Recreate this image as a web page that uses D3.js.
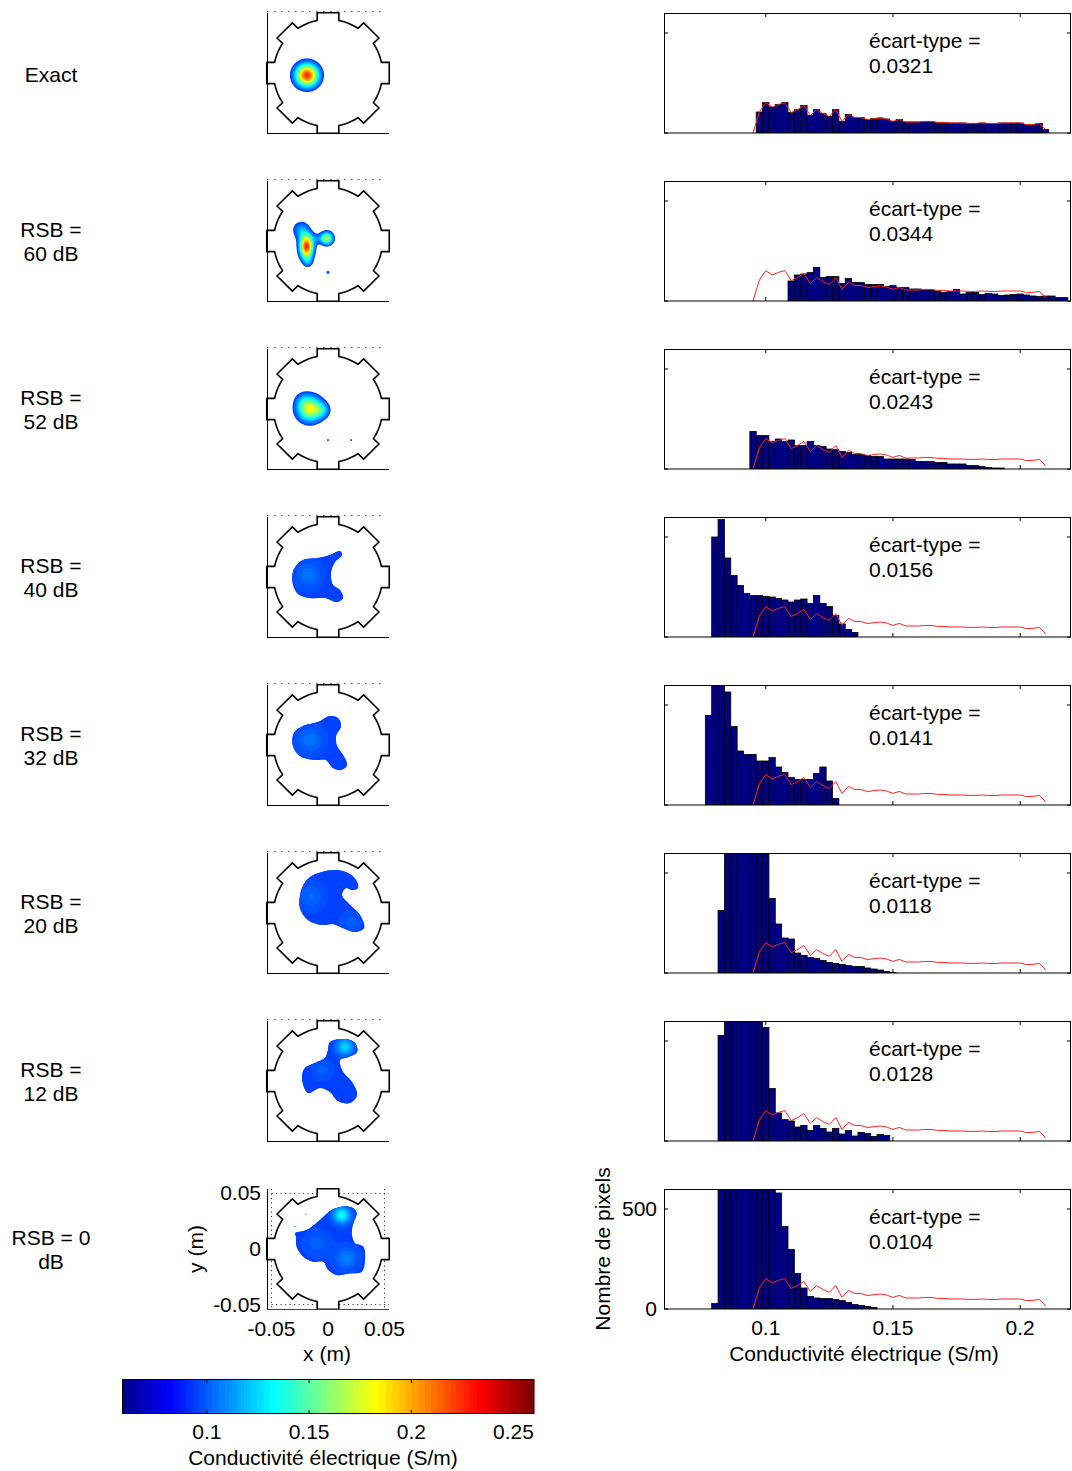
<!DOCTYPE html>
<html>
<head>
<meta charset="utf-8">
<script src="https://cdn.jsdelivr.net/npm/d3@7"></script>
<style>
  body { margin: 0; background: #fff; }
  text { font-family: "Liberation Sans", Arial, sans-serif; fill: #000; }
</style>
</head>
<body>
<svg id="fig" width="1072" height="1471"></svg>
<script>
// ---------- data ----------
const rowLabels = [["Exact"], ["RSB =", "60 dB"], ["RSB =", "52 dB"], ["RSB =", "40 dB"],
                   ["RSB =", "32 dB"], ["RSB =", "20 dB"], ["RSB =", "12 dB"], ["RSB = 0", "dB"]];
const stdDevs = ["0.0321", "0.0344", "0.0243", "0.0156", "0.0141", "0.0118", "0.0128", "0.0104"];

// histogram bins: centre of bin k is binOrigin + k*binWidth
const binWidth = 0.0025;
const binOrigin = 0.0975;
const exactCounts = [105, 152, 130, 143, 152, 102, 117, 138, 88, 117, 97, 83, 117, 58, 93, 78, 77, 67, 72, 75,
                     70, 58, 68, 55, 55, 55, 58, 58, 53, 53, 50, 50, 50, 48, 48, 50, 48, 47, 50, 50,
                     50, 50, 42, 43, 48, 17];
const exactStart = 0;
const counts60 = [100, 130, 135, 142, 168, 117, 122, 122, 88, 113, 93, 92, 83, 83, 83, 72, 77, 67, 67, 60,
                  60, 55, 55, 50, 43, 47, 58, 35, 42, 43, 33, 38, 35, 27, 30, 33, 35, 30, 25, 22,
                  25, 25, 17, 17];
const start60 = 5;
const counts52 = [188, 167, 167, 138, 150, 138, 145, 117, 117, 138, 117, 112, 100, 97, 88, 83, 72, 72, 67, 63,
                  62, 50, 50, 50, 50, 48, 38, 38, 38, 33, 33, 25, 25, 25, 17, 17, 12, 8, 5, 5];
const start52 = -1;
const counts40 = [500, 587, 395, 308, 258, 217, 207, 207, 203, 200, 192, 185, 175, 185, 190, 168, 207, 168,
                  153, 107, 65, 37, 23];
const start40 = -7;
const counts32 = [448, 700, 690, 565, 392, 270, 253, 253, 220, 220, 237, 190, 162, 137, 128, 128, 128, 158,
                  190, 120, 32];
const start32 = -8;
const counts20 = [312, 900, 1200, 1300, 1250, 1100, 950, 750, 373, 245, 175, 170, 100, 88, 77, 72, 63, 53,
                  48, 43, 37, 33, 32, 25, 20, 15, 8, 3];
const start20 = -6;
const counts12 = [528, 950, 1250, 1300, 1150, 950, 800, 567, 262, 140, 107, 100, 70, 78, 53, 77, 63, 45,
                  63, 35, 52, 25, 42, 38, 23, 32, 28];
const start12 = -6;
const counts0 = [27, 900, 1400, 1600, 1500, 1350, 1150, 950, 800, 650, 580, 413, 297, 177, 105, 63, 55, 52,
                 52, 47, 42, 33, 22, 17, 13, 8];
const start0 = -7;

const histCounts = [exactCounts, counts60, counts52, counts40, counts32, counts20, counts12, counts0];
const histStarts = [exactStart, start60, start52, start40, start32, start20, start12, start0];

// conductivity maps
// spots: gaussian bumps [x (m), y (m), sigma (m), amplitude (S/m)] over the background value
// outlines: closed contours [x (m), y (m)] of the low-contrast reconstructed inclusions
const background = 0.08;
const inclusionLevel = 0.095;
const spotsExact = [[-0.0186, -0.0020, 0.0069, 0.145]];
const spots60 = [[-0.0190, -0.0050, 0.0040, 0.115], [-0.0190, 0.0020, 0.0042, 0.070], [-0.0190, -0.0120, 0.0040, 0.070],
                 [-0.0235, 0.0100, 0.0052, 0.035], [-0.0180, -0.0190, 0.0032, 0.030], [-0.0100, 0.0020, 0.0030, 0.016],
                 [-0.0012, 0.0024, 0.0038, 0.090], [0.0000, -0.0282, 0.0012, 0.025]];
const spots52 = [[-0.0160, 0.0000, 0.0075, 0.100], [-0.0050, -0.0010, 0.0045, 0.030], [-0.0220, 0.0080, 0.0050, 0.015],
                 [0.0000, -0.0280, 0.0010, 0.020], [0.0205, -0.0280, 0.0010, 0.020]];
const spots40 = [[-0.0177, 0.0018, 0.0080, 0.010]];
const spots32 = [[-0.0159, 0.0045, 0.0080, 0.010]];
const spots20 = [[-0.0150, 0.0150, 0.0080, 0.008], [0.0200, -0.0080, 0.0060, 0.006]];
const spots12 = [[0.0150, 0.0306, 0.0050, 0.030], [-0.0050, 0.0100, 0.0060, 0.006]];
const spots0 = [[0.0121, 0.0306, 0.0050, 0.040], [0.0165, -0.0084, 0.0070, 0.012], [-0.0100, 0.0051, 0.0080, 0.006],
                [-0.0195, 0.0312, 0.0010, 0.016], [-0.0292, 0.0201, 0.0010, 0.016]];

const outline40 = [[-0.0283, 0.0099], [-0.0221, 0.0153], [-0.0088, 0.0171], [0.0018, 0.0198], [0.0106, 0.0234],
                   [0.0124, 0.0198], [0.0062, 0.0135], [0.0027, 0.0045], [0.0044, -0.0072], [0.0106, -0.0117],
                   [0.0133, -0.0189], [0.0080, -0.0225], [-0.0027, -0.0189], [-0.0159, -0.0189],
                   [-0.0265, -0.0153], [-0.0310, -0.0063], [-0.0310, 0.0045]];
const outline32 = [[-0.0301, 0.0108], [-0.0221, 0.0171], [-0.0088, 0.0207], [0.0018, 0.0261], [0.0088, 0.0243],
                   [0.0115, 0.0171], [0.0071, 0.0081], [0.0080, -0.0009], [0.0133, -0.0090], [0.0168, -0.0180],
                   [0.0115, -0.0225], [0.0044, -0.0207], [-0.0018, -0.0135], [-0.0115, -0.0135],
                   [-0.0248, -0.0099], [-0.0310, -0.0009]];
const outline20 = [[-0.0230, 0.0225], [-0.0159, 0.0324], [-0.0053, 0.0369], [0.0062, 0.0387], [0.0177, 0.0360],
                   [0.0248, 0.0297], [0.0265, 0.0225], [0.0212, 0.0207], [0.0159, 0.0225], [0.0124, 0.0162],
                   [0.0195, 0.0072], [0.0283, -0.0018], [0.0319, -0.0135], [0.0239, -0.0171], [0.0133, -0.0135],
                   [0.0044, -0.0099], [-0.0053, -0.0108], [-0.0177, -0.0063], [-0.0248, 0.0045]];
const outline12 = [[0.0018, 0.0351], [0.0150, 0.0378], [0.0239, 0.0342], [0.0257, 0.0261], [0.0177, 0.0216],
                   [0.0106, 0.0189], [0.0133, 0.0081], [0.0212, -0.0009], [0.0257, -0.0126], [0.0195, -0.0198],
                   [0.0088, -0.0180], [0.0018, -0.0099], [-0.0071, -0.0063], [-0.0177, -0.0108],
                   [-0.0230, 0.0027], [-0.0204, 0.0117], [-0.0115, 0.0162], [-0.0027, 0.0207], [0.0000, 0.0279]];
const outline0 = [[-0.0292, 0.0141], [-0.0188, 0.0171], [-0.0071, 0.0261], [0.0033, 0.0351], [0.0135, 0.0381],
                  [0.0224, 0.0366], [0.0254, 0.0321], [0.0224, 0.0231], [0.0210, 0.0141], [0.0239, 0.0051],
                  [0.0312, 0.0021], [0.0327, -0.0099], [0.0298, -0.0204], [0.0195, -0.0219], [0.0077, -0.0234],
                  [0.0003, -0.0189], [-0.0042, -0.0114], [-0.0130, -0.0114], [-0.0219, -0.0069],
                  [-0.0277, 0.0021], [-0.0283, 0.0111]];

const maps = [
  {spots: spotsExact, outline: null}, {spots: spots60, outline: null}, {spots: spots52, outline: null},
  {spots: spots40, outline: outline40}, {spots: spots32, outline: outline32}, {spots: spots20, outline: outline20},
  {spots: spots12, outline: outline12}, {spots: spots0, outline: outline0}
];

const colorTicks = [0.1, 0.15, 0.2, 0.25];
const colorDomain = [0.0585, 0.26];
const showThreshold = 0.09;      // values below are left blank
const histXTicks = [0.1, 0.15, 0.2];
const histYTicks = [0, 500];
const mapTicks = [-0.05, 0, 0.05];

// ---------- helpers ----------
function jetColors(n) {
  const m = Math.ceil(n / 4);
  const u = [];
  for (let i = 1; i <= m; i++) u.push(i / m);
  for (let i = 1; i < m; i++) u.push(1);
  for (let i = m; i >= 1; i--) u.push(i / m);
  const off = Math.ceil(m / 2) - (n % 4 === 1 ? 1 : 0);
  const cols = Array.from({length: n}, () => [0, 0, 0]);
  u.forEach((val, i) => {
    const g = off + i + 1, r = g + m, b = g - m;
    if (r >= 1 && r <= n) cols[r - 1][0] = val;
    if (g >= 1 && g <= n) cols[g - 1][1] = val;
    if (b >= 1 && b <= n) cols[b - 1][2] = val;
  });
  return cols.map(c => d3.rgb(c[0] * 255, c[1] * 255, c[2] * 255).formatHex());
}
const jet = jetColors(64);
const bandSize = (colorDomain[1] - colorDomain[0]) / 64;
const colorIndex = v => Math.max(0, Math.min(63, Math.floor((v - colorDomain[0]) / bandSize)));

const svg = d3.select("#fig");
const font = 21;
const rowTop = i => 13 + 168 * i;
const nRows = rowLabels.length;
const tickText = t => t === 0 ? "0" : d3.format(".2f")(t).replace("\u2212", "-");

// ---------- row labels ----------
rowLabels.forEach((lines, i) => {
  const cy = rowTop(i) + 60;
  const t = svg.append("text").attr("text-anchor", "middle").attr("font-size", font);
  if (lines.length === 1) {
    t.append("tspan").attr("x", 51).attr("y", cy + 9).text(lines[0]);
  } else {
    t.append("tspan").attr("x", 51).attr("y", cy - 4).text(lines[0]);
    t.append("tspan").attr("x", 51).attr("y", cy + 20).text(lines[1]);
  }
});

// ---------- gear-shaped domain outline ----------
const rIn = 0.0482, rOut = 0.0542, halfW = 0.0096;
function gearPoints() {
  const pts = [];
  const nE = 8;
  const dA = Math.asin(halfW / rIn);
  for (let e = 0; e < nE; e++) {
    const phi = e * 2 * Math.PI / nE;
    const nxt = (e + 1) * 2 * Math.PI / nE;
    const ux = Math.cos(phi), uy = Math.sin(phi), px = -uy, py = ux;
    const base = Math.sqrt(rIn * rIn - halfW * halfW);
    pts.push([ux * base - px * halfW, uy * base - py * halfW]);
    pts.push([ux * rOut - px * halfW, uy * rOut - py * halfW]);
    pts.push([ux * rOut + px * halfW, uy * rOut + py * halfW]);
    pts.push([ux * base + px * halfW, uy * base + py * halfW]);
    const a0 = phi + dA, a1 = nxt - dA, steps = 6;
    for (let s = 0; s <= steps; s++) {
      const a = a0 + (a1 - a0) * s / steps;
      pts.push([rIn * Math.cos(a), rIn * Math.sin(a)]);
    }
  }
  return pts;
}
const gear = gearPoints();

// ---------- conductivity maps ----------
const gridN = 161;
const lim = 0.054;
function fieldValues(spots, base) {
  const vals = new Float64Array(gridN * gridN);
  const step = 2 * lim / (gridN - 1);
  for (let j = 0; j < gridN; j++) {
    const y = lim - j * step;
    for (let i = 0; i < gridN; i++) {
      const x = -lim + i * step;
      let v = base;
      for (const [cx, cy, s, a] of spots) {
        const d2 = (x - cx) ** 2 + (y - cy) ** 2;
        v += a * Math.exp(-d2 / (2 * s * s));
      }
      vals[j * gridN + i] = v;
    }
  }
  return vals;
}

const levelsStart = Math.ceil((showThreshold - colorDomain[0]) / bandSize - 1e-9);
const levels = d3.range(levelsStart, 64).map(k => colorDomain[0] + k * bandSize);

maps.forEach((mp, i) => {
  const top = rowTop(i);
  const x = d3.scaleLinear().domain([-lim, lim]).range([267, 389]);
  const y = d3.scaleLinear().domain([-lim, lim]).range([top + 120, top]);
  const g = svg.append("g");
  const step = 2 * lim / (gridN - 1);
  const proj = d3.geoTransform({
    point(px, py) { this.stream.point(x(-lim + (px - 0.5) * step), y(lim - (py - 0.5) * step)); }
  });
  const path = d3.geoPath(proj);
  const gearLine = d3.line().x(d => x(d[0])).y(d => y(d[1])).curve(d3.curveLinearClosed);
  const clipId = "gearclip" + i;
  g.append("clipPath").attr("id", clipId).append("path").attr("d", gearLine(gear));

  const last = i === nRows - 1;
  if (last) {
    mapTicks.forEach(t => {
      g.append("line").attr("x1", x(t)).attr("x2", x(t)).attr("y1", top).attr("y2", top + 120)
        .attr("stroke", "#333").attr("stroke-width", 1).attr("stroke-dasharray", "1.2,3.3");
      g.append("line").attr("y1", y(t)).attr("y2", y(t)).attr("x1", 267).attr("x2", 389)
        .attr("stroke", "#333").attr("stroke-width", 1).attr("stroke-dasharray", "1.2,3.3");
    });
  } else {
    g.append("line").attr("x1", 267).attr("x2", 384).attr("y1", top - 1.5).attr("y2", top - 1.5)
      .attr("stroke", "#555").attr("stroke-width", 1.2).attr("stroke-dasharray", "1.5,5.5");
  }
  g.append("path").attr("d", gearLine(gear)).attr("fill", "#fff");

  const blobs = g.append("g").attr("clip-path", `url(#${clipId})`);
  const drawContours = (parent, base) => {
    const cs = d3.contours().size([gridN, gridN]).thresholds(levels)(fieldValues(mp.spots, base));
    cs.forEach((c, k) => {
      if (!c.coordinates.length) return;
      parent.append("path").attr("d", path(c)).attr("fill", jet[levelsStart + k]).attr("stroke", "none");
    });
  };
  drawContours(blobs, background);
  if (mp.outline) {
    const shape = d3.line().x(d => x(d[0])).y(d => y(d[1])).curve(d3.curveCatmullRomClosed.alpha(0.5))(mp.outline);
    const incId = "incl" + i;
    g.append("clipPath").attr("id", incId).append("path").attr("d", shape);
    blobs.append("path").attr("d", shape).attr("fill", jet[colorIndex(inclusionLevel)]);
    drawContours(blobs.append("g").attr("clip-path", `url(#${incId})`), inclusionLevel);
  }

  g.append("path").attr("d", gearLine(gear))
    .attr("fill", "none").attr("stroke", "#000").attr("stroke-width", 1.6).attr("stroke-linejoin", "round");

  g.append("line").attr("x1", 267.5).attr("x2", 267.5).attr("y1", top).attr("y2", top + 120)
    .attr("stroke", "#000").attr("stroke-width", 1);
  g.append("line").attr("x1", 267).attr("x2", 389).attr("y1", top + 120.5).attr("y2", top + 120.5)
    .attr("stroke", last ? "#444" : "#000").attr("stroke-width", 1);

  if (last) {
    mapTicks.forEach(t => {
      svg.append("text").attr("x", x(t)).attr("y", top + 147).attr("text-anchor", "middle")
        .attr("font-size", font).text(tickText(t));
      svg.append("text").attr("x", 261).attr("y", y(t) + 7).attr("text-anchor", "end")
        .attr("font-size", font).text(tickText(t));
    });
    svg.append("text").attr("x", 327).attr("y", top + 172).attr("text-anchor", "middle")
      .attr("font-size", font).text("x (m)");
    svg.append("text").attr("transform", `translate(203,${top + 60}) rotate(-90)`)
      .attr("text-anchor", "middle").attr("font-size", font).text("y (m)");
  }
});

// ---------- histograms ----------
const hx = d3.scaleLinear().domain([0.06, 0.22]).range([664, 1071]);
histCounts.forEach((counts, i) => {
  const top = rowTop(i), bottom = top + 120;
  const hy = d3.scaleLinear().domain([0, 600]).range([bottom, top]);
  const g = svg.append("g");
  const clipId = "histclip" + i;
  g.append("clipPath").attr("id", clipId).append("rect")
    .attr("x", 664).attr("y", top).attr("width", 407).attr("height", 120);
  const bars = counts.map((c, j) => ({center: binOrigin + (histStarts[i] + j) * binWidth, count: c}));
  const inner = g.append("g").attr("clip-path", `url(#${clipId})`);
  inner.selectAll("rect").data(bars).join("rect")
    .attr("x", d => hx(d.center - binWidth / 2))
    .attr("width", d => hx(d.center + binWidth / 2) - hx(d.center - binWidth / 2))
    .attr("y", d => hy(d.count))
    .attr("height", d => hy(0) - hy(d.count))
    .attr("fill", "#000085").attr("stroke", "#000").attr("stroke-width", 0.8);

  const ref = [{c: binOrigin - binWidth, v: 0}].concat(
    exactCounts.map((v, j) => ({c: binOrigin + (exactStart + j) * binWidth, v})));
  inner.append("path").attr("d", d3.line().x(d => hx(d.c)).y(d => hy(d.v))(ref))
    .attr("fill", "none").attr("stroke", "#ff2020").attr("stroke-width", 1);

  g.append("rect").attr("x", 664.5).attr("y", top + 0.5).attr("width", 406).attr("height", 119.5)
    .attr("fill", "none").attr("stroke", "#000").attr("stroke-width", 1);
  histXTicks.forEach(t => {
    g.append("line").attr("x1", hx(t)).attr("x2", hx(t)).attr("y1", bottom).attr("y2", bottom - 4).attr("stroke", "#000");
    g.append("line").attr("x1", hx(t)).attr("x2", hx(t)).attr("y1", top).attr("y2", top + 4).attr("stroke", "#000");
  });
  histYTicks.forEach(t => {
    g.append("line").attr("x1", 664).attr("x2", 668).attr("y1", hy(t)).attr("y2", hy(t)).attr("stroke", "#000");
    g.append("line").attr("x1", 1067).attr("x2", 1071).attr("y1", hy(t)).attr("y2", hy(t)).attr("stroke", "#000");
  });

  const st = g.append("text").attr("font-size", font);
  st.append("tspan").attr("x", 869).attr("y", top + 35).text("écart-type =");
  st.append("tspan").attr("x", 869).attr("y", top + 60).text(stdDevs[i]);

  if (i === nRows - 1) {
    histXTicks.forEach(t => {
      svg.append("text").attr("x", hx(t)).attr("y", bottom + 26).attr("text-anchor", "middle")
        .attr("font-size", font).text(String(t));
    });
    histYTicks.forEach(t => {
      svg.append("text").attr("x", 657).attr("y", hy(t) + 7).attr("text-anchor", "end")
        .attr("font-size", font).text(String(t));
    });
    svg.append("text").attr("x", 864).attr("y", bottom + 52).attr("text-anchor", "middle")
      .attr("font-size", font).text("Conductivité électrique (S/m)");
    svg.append("text").attr("transform", `translate(610,${top + 60}) rotate(-90)`)
      .attr("text-anchor", "middle").attr("font-size", font).text("Nombre de pixels");
  }
});

// ---------- colour bar ----------
const cb = d3.scaleLinear().domain(colorDomain).range([122, 534]);
const cbTop = 1379, cbH = 35;
jet.forEach((col, k) => {
  const v0 = colorDomain[0] + k * bandSize, v1 = v0 + bandSize;
  svg.append("rect").attr("x", cb(v0)).attr("y", cbTop).attr("width", cb(v1) - cb(v0) + 0.6)
    .attr("height", cbH).attr("fill", col);
});
svg.append("rect").attr("x", 122.5).attr("y", cbTop + 0.5).attr("width", 411).attr("height", cbH - 1)
  .attr("fill", "none").attr("stroke", "#000");
colorTicks.forEach(t => {
  svg.append("line").attr("x1", cb(t)).attr("x2", cb(t)).attr("y1", cbTop).attr("y2", cbTop + 4).attr("stroke", "#000");
  svg.append("line").attr("x1", cb(t)).attr("x2", cb(t)).attr("y1", cbTop + cbH).attr("y2", cbTop + cbH - 4).attr("stroke", "#000");
  svg.append("text").attr("x", cb(t)).attr("y", 1439).attr("text-anchor", "middle").attr("font-size", font).text(String(t));
});
svg.append("text").attr("x", 323).attr("y", 1465).attr("text-anchor", "middle").attr("font-size", font)
  .text("Conductivité électrique (S/m)");
</script>
</body>
</html>
